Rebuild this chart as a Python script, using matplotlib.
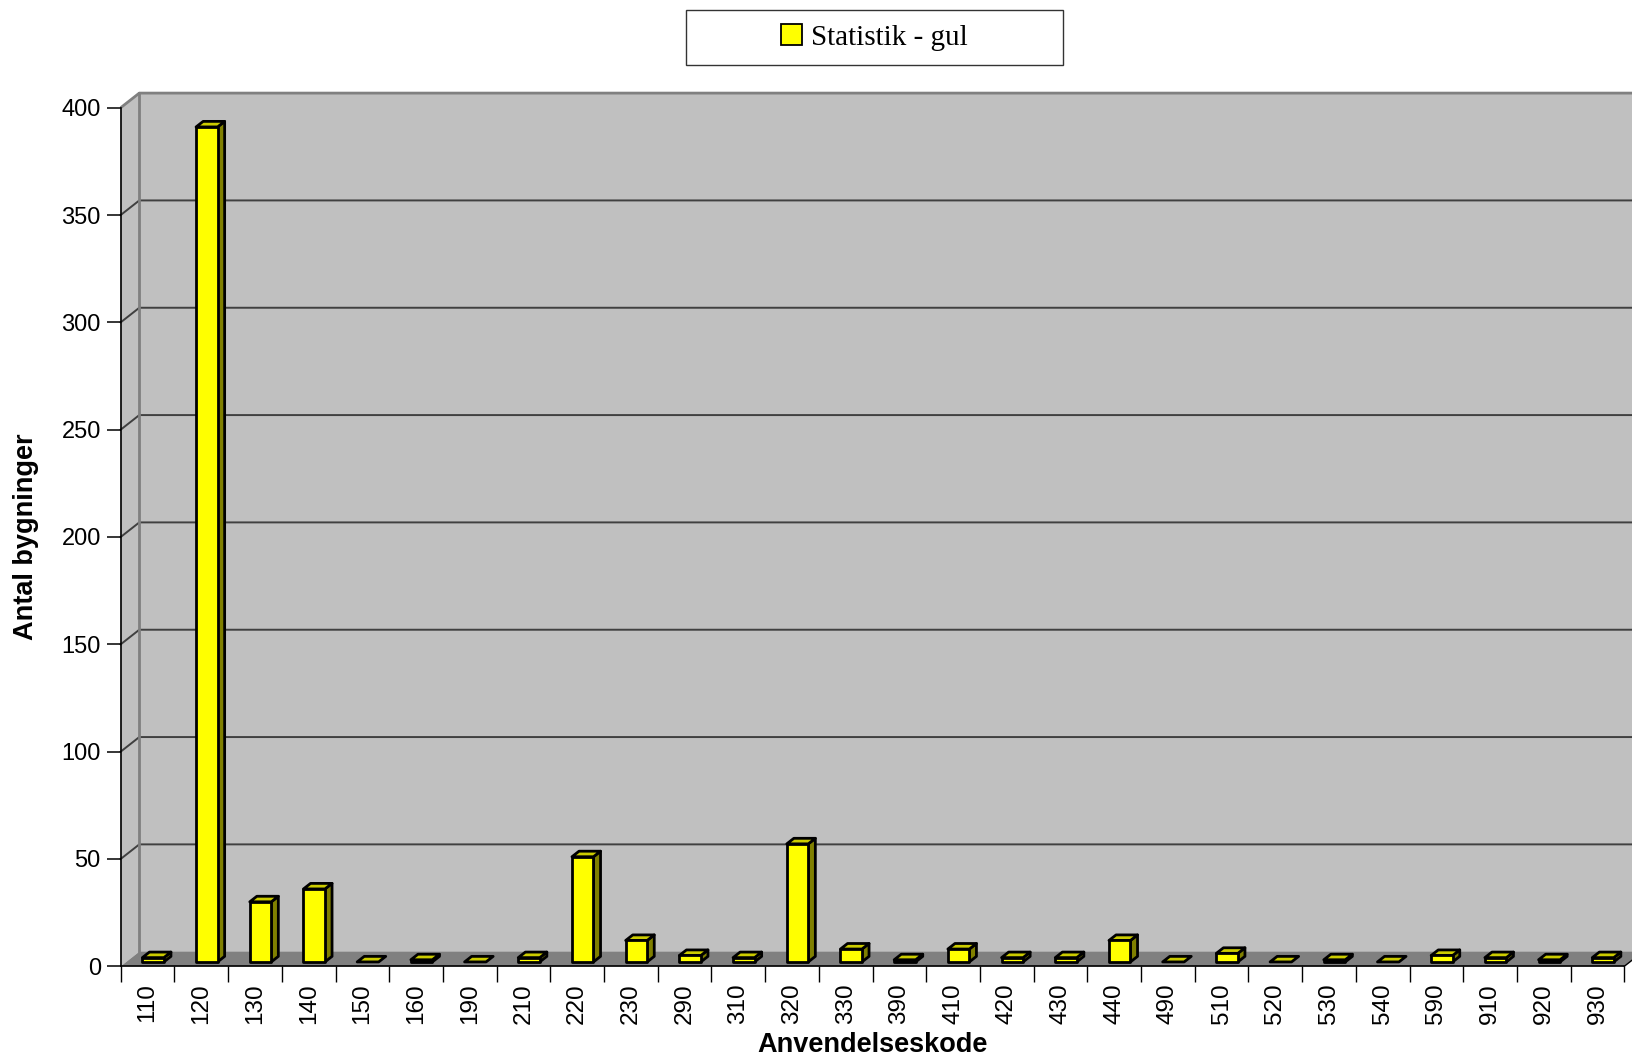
import numpy as np
import matplotlib
matplotlib.use("Agg")
import matplotlib.pyplot as plt
from matplotlib.patches import Polygon, Rectangle, Patch

# Data: number of buildings per usage code
codes = ['110', '120', '130', '140', '150', '160', '190', '210', '220', '230',
         '290', '310', '320', '330', '390', '410', '420', '430', '440', '490',
         '510', '520', '530', '540', '590', '910', '920', '930']
counts = [2, 389, 28, 34, 0, 1, 0, 2, 49, 10,
          3, 2, 55, 6, 1, 6, 2, 2, 10, 0,
          4, 0, 1, 0, 3, 2, 1, 2]
series_label = 'Statistik - gul'
yticks = np.arange(0, 401, 50)

plt.rcParams['font.family'] = ['Liberation Sans', 'DejaVu Sans']

W, H = 1633, 1058
fig = plt.figure(figsize=(W / 100, H / 100), dpi=100)
fig.patch.set_facecolor('white')

# front plane of the pseudo-3D box (pixel geometry)
x0_px, y0_px = 120.7, 966.3
cat_px = 53.7
unit_px = 858.6 / 400
n = len(codes)
ax = fig.add_axes([x0_px / W, 1 - y0_px / H, n * cat_px / W, 400 * unit_px / H])
ax.set_xlim(0, n)
ax.set_ylim(0, 400)
ax.patch.set_visible(False)

# depth offset of the walls, in data units
dx = 18.6 / cat_px
dy = 14.6 / unit_px

def poly(pts, **kw):
    p = Polygon(pts, closed=True, clip_on=False, **kw)
    ax.add_patch(p)
    return p

wall = '#c0c0c0'
# back wall, side wall, floor
poly([(dx, dy), (n + dx, dy), (n + dx, 400 + dy), (dx, 400 + dy)],
     facecolor=wall, edgecolor='none', zorder=0.5)
poly([(0, 0), (dx, dy), (dx, 400 + dy), (0, 400)],
     facecolor=wall, edgecolor='none', zorder=0.5)
poly([(0, 0), (n, 0), (n + dx, dy), (dx, dy)],
     facecolor='#808080', edgecolor='none', zorder=0.6)
ax.plot([0, dx, n + dx + 1], [400, 400 + dy, 400 + dy], color='#808080',
        lw=2, clip_on=False, zorder=0.8, solid_capstyle='butt')
ax.plot([dx, dx], [dy, 400 + dy], color='#808080', lw=2, clip_on=False, zorder=0.8)
ax.plot([n, n + dx], [0, dy], color='black', lw=1, clip_on=False, zorder=0.8)

# gridlines on side and back wall
for v in yticks[1:-1]:
    ax.plot([0, dx, n + dx + 1], [v, v + dy, v + dy], color='#404040',
            lw=1.4, clip_on=False, zorder=0.7)

# bars
bw = 0.40
f0, f1 = 0.30, 0.68
depth_x, depth_y = (f1 - f0) * dx, (f1 - f0) * dy
edge = dict(edgecolor='black', linewidth=2.0, joinstyle='round')
for i, v in enumerate(counts):
    xl = i + 0.5 - bw / 2 + f0 * dx
    xr = xl + bw
    yb = f0 * dy
    yt = yb + v
    z = 3 + i * 0.01
    if v > 0:
        poly([(xr, yb), (xr + depth_x, yb + depth_y), (xr + depth_x, yt + depth_y), (xr, yt)],
             facecolor='#808000', zorder=z, **edge)
    poly([(xl, yt), (xr, yt), (xr + depth_x, yt + depth_y), (xl + depth_x, yt + depth_y)],
         facecolor='#cccc00', zorder=z, **edge)
    if v > 0:
        poly([(xl, yb), (xr, yb), (xr, yt), (xl, yt)],
             facecolor='#ffff00', zorder=z, **edge)

# axes lines and ticks
for s in ['top', 'right']:
    ax.spines[s].set_visible(False)
for s in ['left', 'bottom']:
    ax.spines[s].set_color('black')
    ax.spines[s].set_linewidth(1.2)

ax.set_yticks(yticks)
ax.set_yticklabels([str(v) for v in yticks])
ax.tick_params(axis='y', direction='out', length=10, width=1.1, pad=4.3,
               labelsize=17, colors='black')

ax.set_xticks(np.arange(n + 1))
ax.set_xticklabels([])
ax.set_xticks(np.arange(n) + 0.5, minor=True)
ax.set_xticklabels(codes, minor=True, rotation=90)
ax.tick_params(axis='x', which='major', direction='out', length=11.5, width=1.0)
ax.tick_params(axis='x', which='minor', length=0, pad=12, labelsize=17.5)

ax.set_xlabel('Anvendelseskode', fontsize=19.5, fontweight='bold')
ax.xaxis.set_label_coords(0.5, (y0_px - 1045) / (400 * unit_px))
ax.xaxis.label.set_va('center')
ax.set_ylabel('Antal bygninger', fontsize=19.5, fontweight='bold')
ax.yaxis.set_label_coords((26 - x0_px) / (n * cat_px), 0.5)
ax.yaxis.label.set_va('center')

# legend box on top
fig.patches.append(Rectangle((686 / W, 1 - 64.6 / H), 377 / W, 54.2 / H,
                             transform=fig.transFigure, facecolor='white',
                             edgecolor='#333333', linewidth=1.0))
handle = Patch(facecolor='#ffff00', edgecolor='black', linewidth=1.3)
fig.legend(handles=[handle], labels=[series_label], loc='center',
           bbox_to_anchor=(874.5 / W, 1 - 37.5 / H), frameon=False,
           prop={'family': 'Liberation Serif', 'size': 21},
           handlelength=0.72, handleheight=0.72, handletextpad=0.3)

fig.savefig('out.png', dpi=100)
